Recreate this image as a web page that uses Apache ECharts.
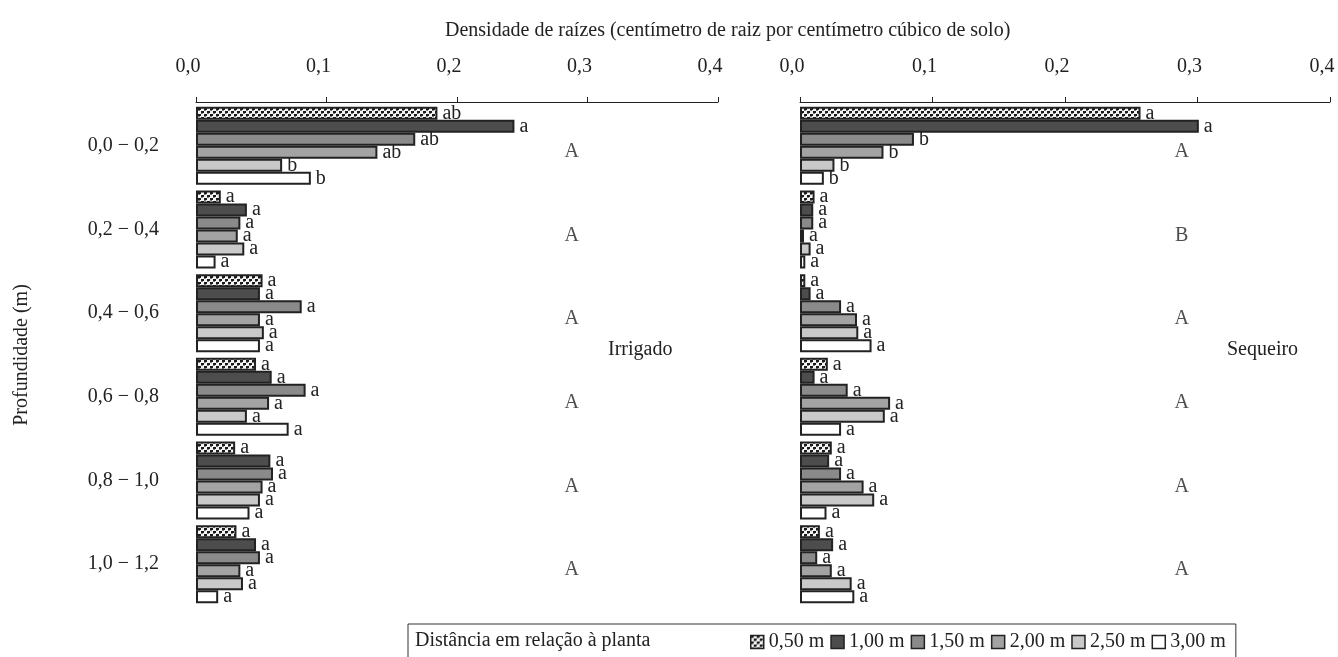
<!DOCTYPE html>
<html><head><meta charset="utf-8">
<script src="https://cdn.jsdelivr.net/npm/echarts@6/dist/echarts.min.js"></script>
<style>html,body{margin:0;padding:0;background:#fff}#c{width:1338px;height:657px}</style>
</head><body><div id="c"></div>
<script>
const depths = ['0,0 \u2212 0,2', '0,2 \u2212 0,4', '0,4 \u2212 0,6', '0,6 \u2212 0,8', '0,8 \u2212 1,0', '1,0 \u2212 1,2'];
const distances = ['0,50 m', '1,00 m', '1,50 m', '2,00 m', '2,50 m', '3,00 m'];
const xTickLabels = ['0,0', '0,1', '0,2', '0,3', '0,4'];

// Irrigado: root density per distance (one value per depth layer)
const irr050 = [0.185, 0.019, 0.051, 0.046, 0.030, 0.031];
const irr100 = [0.244, 0.039, 0.049, 0.058, 0.057, 0.046];
const irr150 = [0.168, 0.034, 0.081, 0.084, 0.059, 0.049];
const irr200 = [0.139, 0.032, 0.049, 0.056, 0.051, 0.034];
const irr250 = [0.066, 0.037, 0.052, 0.039, 0.049, 0.036];
const irr300 = [0.088, 0.015, 0.049, 0.071, 0.041, 0.017];
// Sequeiro
const seq050 = [0.257, 0.011, 0.004, 0.021, 0.024, 0.015];
const seq100 = [0.301, 0.010, 0.008, 0.011, 0.022, 0.025];
const seq150 = [0.086, 0.010, 0.031, 0.036, 0.031, 0.013];
const seq200 = [0.063, 0.003, 0.043, 0.068, 0.048, 0.024];
const seq250 = [0.026, 0.008, 0.044, 0.064, 0.056, 0.039];
const seq300 = [0.018, 0.004, 0.054, 0.031, 0.020, 0.041];

// significance letters (lowercase per bar, uppercase per depth)
const irrLetters = [
  ['ab', 'a', 'a', 'a', 'a', 'a'],
  ['a', 'a', 'a', 'a', 'a', 'a'],
  ['ab', 'a', 'a', 'a', 'a', 'a'],
  ['ab', 'a', 'a', 'a', 'a', 'a'],
  ['b', 'a', 'a', 'a', 'a', 'a'],
  ['b', 'a', 'a', 'a', 'a', 'a']
];
const seqLetters = [
  ['a', 'a', 'a', 'a', 'a', 'a'],
  ['a', 'a', 'a', 'a', 'a', 'a'],
  ['b', 'a', 'a', 'a', 'a', 'a'],
  ['b', 'a', 'a', 'a', 'a', 'a'],
  ['b', 'a', 'a', 'a', 'a', 'a'],
  ['b', 'a', 'a', 'a', 'a', 'a']
];
const irrCaps = ['A', 'A', 'A', 'A', 'A', 'A'];
const seqCaps = ['A', 'B', 'A', 'A', 'A', 'A'];

const irrSeries = [irr050, irr100, irr150, irr200, irr250, irr300];
const seqSeries = [seq050, seq100, seq150, seq200, seq250, seq300];

const FONT = "'Liberation Serif', 'DejaVu Serif', serif";
const INK = '#222';

const pc = document.createElement('canvas');
pc.width = 6; pc.height = 6;
const g = pc.getContext('2d');
g.fillStyle = '#f4f4f4'; g.fillRect(0, 0, 6, 6);
g.fillStyle = '#1a1a1a'; g.fillRect(0, 0, 3, 2); g.fillRect(3, 3, 3, 2);
g.fillStyle = '#777'; g.fillRect(0, 2, 2, 1); g.fillRect(3, 5, 2, 1);

const fills = [{ image: pc, repeat: 'repeat' }, '#4d4d4d', '#8a8a8a', '#a3a3a3', '#c9c9c9', '#ffffff'];

function xAxisCfg(gi) {
  return {
    gridIndex: gi, type: 'value', position: 'top', min: 0, max: 0.4, interval: 0.1, offset: 2,
    axisLine: { show: true, lineStyle: { color: INK, width: 1 } },
    axisTick: { show: true, length: 5, lineStyle: { color: INK, width: 1 } },
    splitLine: { show: false },
    axisLabel: {
      margin: 25, fontFamily: FONT, fontSize: 20, color: INK, padding: [0, 16, 0, 0],
      formatter: v => xTickLabels[Math.round(v * 10)]
    }
  };
}

function yAxisCfg(gi, showLabels) {
  const cfg = {
    gridIndex: gi, type: 'category', inverse: true, data: depths,
    axisLine: { show: false }, axisTick: { show: false }, splitLine: { show: false },
    axisLabel: { show: showLabels, margin: 37, fontFamily: FONT, fontSize: 20, color: INK }
  };
  if (showLabels) {
    cfg.name = 'Profundidade (m)';
    cfg.nameLocation = 'middle';
    cfg.nameRotate = 90;
    cfg.nameGap = 164;
    cfg.nameTextStyle = { fontFamily: FONT, fontSize: 20, color: INK };
  }
  return cfg;
}

const series = [];
[irrSeries, seqSeries].forEach((set, gi) => {
  const letters = gi === 0 ? irrLetters : seqLetters;
  set.forEach((vals, si) => {
    series.push({
      type: 'bar', name: distances[si], xAxisIndex: gi, yAxisIndex: gi,
      data: vals, barWidth: 13, barGap: '0%',
      itemStyle: { color: fills[si], borderColor: INK, borderWidth: 2 },
      label: {
        show: true, position: 'right', distance: 5, fontFamily: FONT, fontSize: 20, color: INK,
        formatter: p => letters[si][p.dataIndex]
      },
      silent: true
    });
  });
  const caps = gi === 0 ? irrCaps : seqCaps;
  series.push({
    type: 'scatter', xAxisIndex: gi, yAxisIndex: gi, silent: true,
    symbolSize: 2, itemStyle: { color: 'rgba(0,0,0,0)' },
    data: caps.map((c, i) => [0.288, depths[i]]),
    label: {
      show: true, position: 'inside', offset: [0, 6], fontFamily: FONT, fontSize: 20, color: INK,
      formatter: p => caps[p.dataIndex]
    }
  });
});

const chart = echarts.init(document.getElementById('c'), null, { renderer: 'canvas' });
chart.setOption({
  animation: false,
  backgroundColor: '#fff',
  title: [
    { text: 'Densidade de raízes (centímetro de raiz por centímetro cúbico de solo)', left: 440, top: 16,
      textStyle: { fontFamily: FONT, fontSize: 20, fontWeight: 'normal', color: INK } },
    { text: 'Irrigado', left: 603, top: 335, textStyle: { fontFamily: FONT, fontSize: 20, fontWeight: 'normal', color: INK } },
    { text: 'Sequeiro', left: 1222, top: 335, textStyle: { fontFamily: FONT, fontSize: 20, fontWeight: 'normal', color: INK } },
    { text: 'Distância em relação à planta', left: 415, top: 631, padding: 0,
      textStyle: { fontFamily: FONT, fontSize: 20, fontWeight: 'normal', color: INK } }
  ],
  legend: {
    data: distances.map(n => ({ name: n, icon: 'rect' })), left: 408, top: 624, orient: 'horizontal',
    padding: [8, 10, 20, 342], itemWidth: 13, itemHeight: 13, itemGap: 6,
    borderColor: '#333', borderWidth: 1,
    textStyle: { fontFamily: FONT, fontSize: 20, color: INK },
    itemStyle: { borderColor: INK, borderWidth: 1.5 }
  },
  grid: [
    { left: 196, top: 104, width: 522, height: 502, containLabel: false },
    { left: 800, top: 104, width: 530, height: 502, containLabel: false }
  ],
  xAxis: [xAxisCfg(0), xAxisCfg(1)],
  yAxis: [yAxisCfg(0, true), yAxisCfg(1, false)],
  series: series
});
</script>
</body></html>
